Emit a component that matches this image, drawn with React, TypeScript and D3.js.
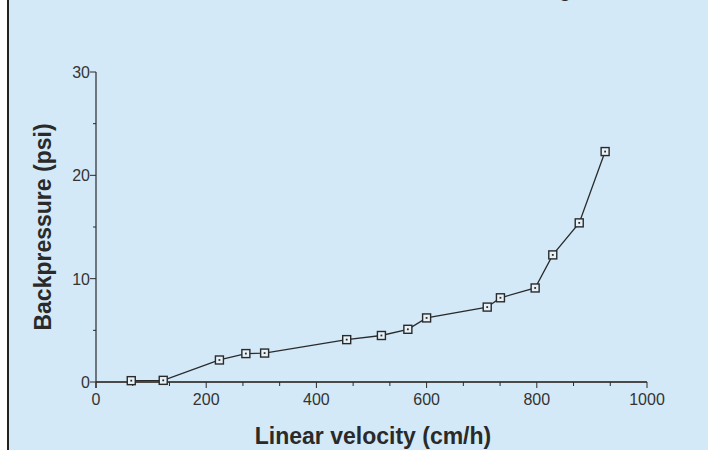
import React, { useRef, useEffect } from 'react'
import * as d3 from 'd3'

// linear velocity (cm/h) vs backpressure (psi)
const velocity = [64, 122, 224, 272, 306, 455, 518, 566, 600, 710, 734, 797, 829, 877, 924]
const pressure = [0.13, 0.16, 2.13, 2.75, 2.8, 4.1, 4.5, 5.1, 6.2, 7.25, 8.15, 9.1, 12.3, 15.4, 22.3]
const xTicks = [0, 200, 400, 600, 800, 1000]
const yTicks = [0, 10, 20, 30]

export default function App() {
  const svgRef = useRef<SVGSVGElement>(null)

  useEffect(() => {
    const svg = d3.select(svgRef.current)
    svg.selectAll('*').remove()

    const width = 708, height = 450
    const font = 'Liberation Sans, Arial, sans-serif'
    const ink = '#2a2a2a'

    svg.append('rect').attr('x', 8).attr('y', 0).attr('width', width - 8).attr('height', height).attr('fill', '#d3e9f7')
    svg.append('line').attr('x1', 8).attr('x2', 8).attr('y1', 0).attr('y2', height).attr('stroke', '#222').attr('stroke-width', 2)

    // descender of a cut-off heading above the frame
    svg.append('text').attr('x', 565).attr('y', -3).attr('text-anchor', 'middle')
      .attr('font-family', font).attr('font-weight', 'bold').attr('font-size', 20).attr('fill', ink).text('g')

    const x = d3.scaleLinear().domain([0, 1000]).range([96, 647])
    const y = d3.scaleLinear().domain([0, 30]).range([382, 72])

    // x axis
    svg.append('line').attr('x1', x(0)).attr('x2', x(1000)).attr('y1', y(0)).attr('y2', y(0))
      .attr('stroke', '#4a4a4a').attr('stroke-width', 2)
    const xMinor = d3.range(0, 1001, 200 / 3).filter(v => Math.round(v) % 200 !== 0)
    svg.selectAll('.xminor').data(xMinor).join('line')
      .attr('x1', d => x(d)).attr('x2', d => x(d)).attr('y1', y(0)).attr('y2', y(0) + 4)
      .attr('stroke', ink).attr('stroke-width', 1)
    svg.selectAll('.xmajor').data(xTicks).join('line')
      .attr('x1', d => x(d)).attr('x2', d => x(d)).attr('y1', y(0)).attr('y2', y(0) + 6)
      .attr('stroke', ink).attr('stroke-width', 1)
    svg.selectAll('.xlab').data(xTicks).join('text')
      .attr('x', d => x(d)).attr('y', y(0) + 23).attr('text-anchor', 'middle')
      .attr('font-family', font).attr('font-size', 16).attr('fill', '#333').text(d => d)

    // y axis
    svg.append('line').attr('x1', x(0)).attr('x2', x(0)).attr('y1', y(30)).attr('y2', y(0) + 6)
      .attr('stroke', ink).attr('stroke-width', 1.2)
    svg.selectAll('.yminor').data([5, 15, 25]).join('line')
      .attr('x1', x(0) - 3).attr('x2', x(0)).attr('y1', d => y(d)).attr('y2', d => y(d))
      .attr('stroke', ink).attr('stroke-width', 1)
    svg.selectAll('.ymajor').data(yTicks).join('line')
      .attr('x1', x(0) - 6).attr('x2', x(0)).attr('y1', d => y(d)).attr('y2', d => y(d))
      .attr('stroke', ink).attr('stroke-width', 1)
    svg.selectAll('.ylab').data(yTicks).join('text')
      .attr('x', x(0) - 6).attr('y', d => y(d) + 6).attr('text-anchor', 'end')
      .attr('font-family', font).attr('font-size', 16).attr('fill', '#333').text(d => d)

    // titles
    svg.append('text').attr('x', 373).attr('y', 444).attr('text-anchor', 'middle')
      .attr('font-family', font).attr('font-weight', 'bold').attr('font-size', 23).attr('fill', ink)
      .text('Linear velocity (cm/h)')
    svg.append('text').attr('transform', `translate(51,${(y(0) + y(30)) / 2}) rotate(-90)`)
      .attr('text-anchor', 'middle')
      .attr('font-family', font).attr('font-weight', 'bold').attr('font-size', 23).attr('fill', ink)
      .text('Backpressure (psi)')

    const pts = velocity.map((v, i) => [v, pressure[i]] as [number, number])
    const line = d3.line<[number, number]>().x(d => x(d[0])).y(d => y(d[1]))
    svg.append('path').attr('d', line(pts)).attr('fill', 'none').attr('stroke', ink).attr('stroke-width', 1.3)

    const marks = svg.selectAll('.pt').data(pts).join('g')
      .attr('transform', d => `translate(${x(d[0])},${y(d[1])})`)
    marks.append('rect').attr('x', -4).attr('y', -4).attr('width', 8).attr('height', 8)
      .attr('fill', '#e6f1f8').attr('stroke', ink).attr('stroke-width', 1.4)
    marks.append('rect').attr('x', -0.9).attr('y', -0.9).attr('width', 1.8).attr('height', 1.8).attr('fill', ink)
  }, [])

  return <svg ref={svgRef} width={708} height={450} style={{ position: 'absolute', left: 0, top: 0 }} />
}
